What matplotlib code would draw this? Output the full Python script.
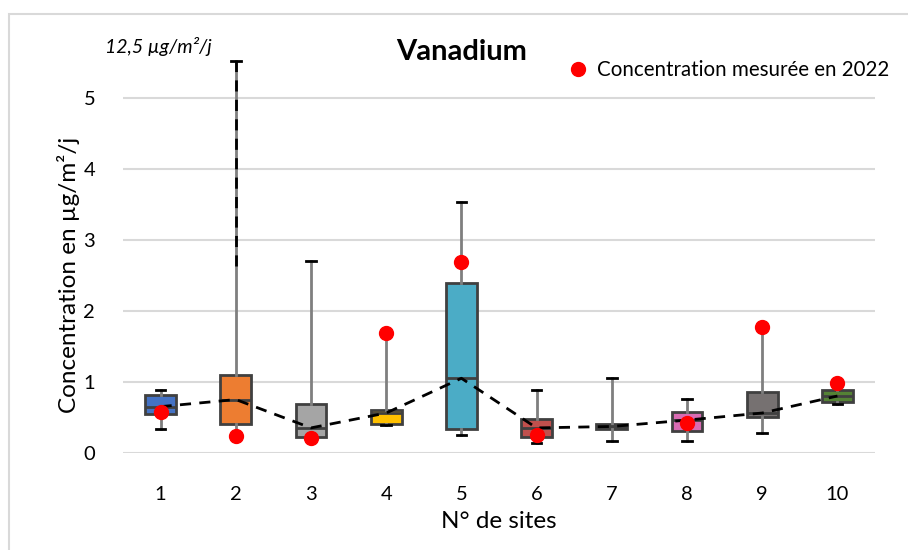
import matplotlib
matplotlib.use('Agg')
import matplotlib.pyplot as plt
from matplotlib.patches import Rectangle
from matplotlib.lines import Line2D

plt.rcParams['font.family'] = ['Lato', 'DejaVu Sans']

sites = [1, 2, 3, 4, 5, 6, 7, 8, 9, 10]
whislo = [0.34, 0.24, 0.20, 0.39, 0.25, 0.13, 0.17, 0.17, 0.28, 0.68]
q1 = [0.54, 0.41, 0.22, 0.40, 0.33, 0.22, 0.34, 0.30, 0.51, 0.72]
med = [0.65, 0.75, 0.35, 0.56, 1.05, 0.35, 0.37, 0.46, 0.56, 0.80]
q3 = [0.81, 1.10, 0.68, 0.60, 2.40, 0.48, 0.41, 0.57, 0.85, 0.89]
whishi = [0.89, 5.52, 2.70, 1.68, 3.54, 0.89, 1.06, 0.76, 1.77, 0.95]
mesure_2022 = [0.58, 0.23, 0.21, 1.69, 2.69, 0.25, None, 0.42, 1.78, 0.98]
# site 2 whisker is cut: real max 12,5 µg/m²/j
break_start = 2.63

colors = ['#4472C4', '#ED7D31', '#A5A5A5', '#FFC000', '#4BACC6',
          '#C0504D', '#404040', '#D96BB3', '#767171', '#548235']


def build_stats():
    stats = []
    for i in range(len(sites)):
        stats.append({'whislo': whislo[i], 'q1': q1[i], 'med': med[i],
                      'q3': q3[i], 'whishi': whishi[i], 'fliers': []})
    return stats


def main():
    fig = plt.figure(figsize=(9.08, 5.5), dpi=100)
    ax = fig.add_axes([123 / 908, 0.1769, 752 / 908, 0.7218])

    # outer chart frame
    fig.patches.append(Rectangle((9 / 908, -0.1), 1.2, (550 - 14) / 550 + 0.1,
                                 transform=fig.transFigure, fill=False,
                                 edgecolor='#d9d9d9', linewidth=1.5))

    bp = ax.bxp(build_stats(), positions=sites, widths=0.41, patch_artist=True,
                showfliers=False,
                boxprops=dict(edgecolor='#404040', linewidth=2),
                medianprops=dict(color='#404040', linewidth=2),
                whiskerprops=dict(color='#7f7f7f', linewidth=2),
                capprops=dict(color='black', linewidth=2), capwidths=0.13)
    for patch, c in zip(bp['boxes'], colors):
        patch.set_facecolor(c)

    # broken whisker of site 2
    ax.plot([2, 2], [break_start, whishi[1]], color='black', lw=2,
            linestyle=(0, (4, 3)), zorder=4)

    ax.plot(sites, med, color='black', lw=2, linestyle=(0, (4, 3)), zorder=5)

    xs = [s for s, v in zip(sites, mesure_2022) if v is not None]
    ys = [v for v in mesure_2022 if v is not None]
    ax.plot(xs, ys, 'o', color='#FF0000', markersize=10, zorder=6,
            linestyle='none')

    ax.set_xlim(0.5, 10.5)
    ax.set_ylim(0, 5.6)
    ax.set_yticks([0, 1, 2, 3, 4, 5])
    ax.set_xticks(sites)
    ax.yaxis.grid(True, color='#d9d9d9', linewidth=1.5)
    ax.set_axisbelow(True)
    for sp in ax.spines.values():
        sp.set_visible(False)
    ax.tick_params(length=0, labelsize=14.5, colors='black')
    ax.tick_params(axis='y', pad=20)
    ax.tick_params(axis='x', pad=24)

    ax.set_xlabel('N° de sites', fontsize=17.5, labelpad=6)
    ax.set_ylabel('Concentration en µg/m²/j', fontsize=17.5)
    ax.yaxis.set_label_coords(-0.057, 0.447)
    fig.text(462 / 908, 1 - 52 / 550, 'Vanadium', fontsize=21,
             fontweight='bold', ha='center', va='center')
    fig.text(105 / 908, 1 - 47 / 550, '12,5 µg/m²/j', fontsize=14,
             style='italic', ha='left', va='center')

    handle = Line2D([], [], marker='o', color='#FF0000', linestyle='none',
                    markersize=10)
    ax.legend(handles=[handle], labels=['Concentration mesurée en 2022'],
              loc='upper right', bbox_to_anchor=(1.03, 1.01), frameon=False,
              fontsize=14.8, handletextpad=0.2, handlelength=1.5,
              borderaxespad=0)

    fig.savefig('out.png', dpi=100)


if __name__ == '__main__':
    main()
